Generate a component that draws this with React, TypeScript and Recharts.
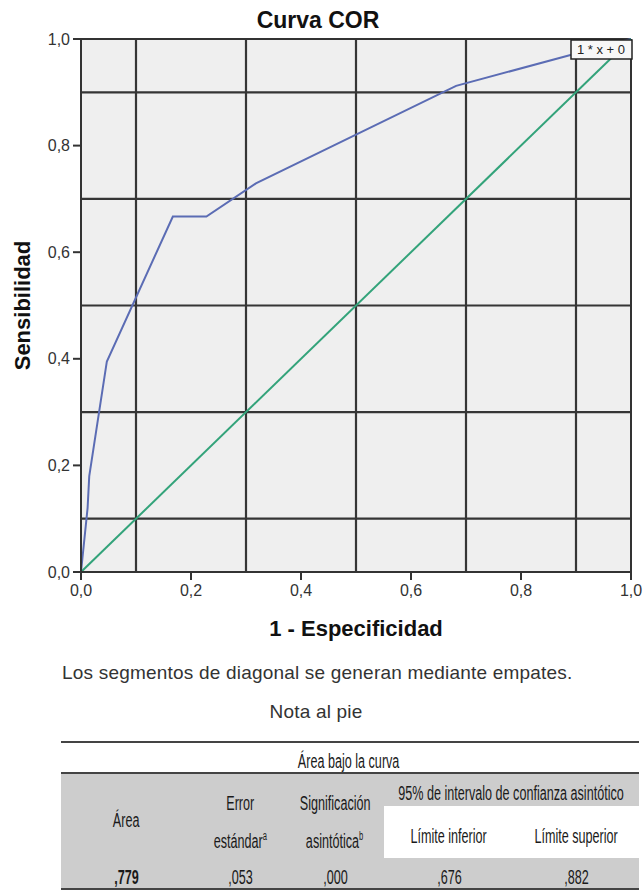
import React from 'react';
import { LineChart, Line, XAxis, YAxis, CartesianGrid, ReferenceLine } from 'recharts';

// ROC curve points (1 - especificidad, sensibilidad)
const rocX = [0, 0.012, 0.015, 0.047, 0.167, 0.228, 0.318, 0.682, 0.89, 1];
const rocY = [0, 0.12, 0.18, 0.395, 0.667, 0.667, 0.729, 0.912, 0.97, 1];
// reference diagonal
const diagX = [0, 1];
const diagY = [0, 1];
// axis ticks and gridlines
const axisTicks = [0, 0.2, 0.4, 0.6, 0.8, 1];
const gridValues = [0.1, 0.3, 0.5, 0.7, 0.9];
const borderValues = [1];

// table
const tableTitle = 'Área bajo la curva';
const aucValues = [',779', ',053', ',000', ',676', ',882'];

const rocData = rocX.map((x, i) => ({ x, y: rocY[i] }));
const diagData = diagX.map((x, i) => ({ x, y: diagY[i] }));

const fmt = (v: number) => v.toFixed(1).replace('.', ',');

const AXIS = '#333333';
const GRID = '#353535';
const SANS = '"Liberation Sans", Arial, sans-serif';

const renderBox = (props: any) => {
  const { x, y, index } = props;
  if (index !== diagData.length - 1) return null;
  return (
    <g>
      <rect x={x - 60} y={y + 1} width={61} height={19} fill="#f7f7f7" stroke="#222" strokeWidth={1.5} />
      <text x={x - 30} y={y + 15} textAnchor="middle" fontSize={13} fontFamily={SANS} fill="#222">
        1 * x + 0
      </text>
    </g>
  );
};

const cellText = (left: number, top: number, text: React.ReactNode, extra: React.CSSProperties = {}) => (
  <div
    style={{
      position: 'absolute',
      left: left - 200,
      width: 400,
      top: top - 13,
      height: 26,
      lineHeight: '26px',
      textAlign: 'center',
      whiteSpace: 'nowrap',
    }}
  >
    <span
      style={{
        display: 'inline-block',
        fontFamily: SANS,
        fontSize: 20,
        color: '#1a1a1a',
        transform: 'scaleX(0.63)',
        transformOrigin: 'center',
        ...extra,
      }}
    >
      {text}
    </span>
  </div>
);

export default function App() {
  return (
    <div style={{ position: 'absolute', left: 0, top: 0, width: 644, height: 891, background: '#fff', overflow: 'hidden' }}>
      <div
        style={{
          position: 'absolute',
          left: 218,
          width: 200,
          top: 6,
          height: 28,
          lineHeight: '28px',
          textAlign: 'center',
          fontFamily: SANS,
          fontWeight: 'bold',
          fontSize: 23,
          color: '#111',
        }}
      >
        Curva COR
      </div>

      <div style={{ position: 'absolute', left: 0, top: 0 }}>
        <LineChart width={644} height={650} margin={{ top: 39, right: 13, bottom: 8, left: 0 }}>
          <CartesianGrid fill="#efefef" stroke="none" horizontal={false} vertical={false} />
          {gridValues.map((v) => (
            <ReferenceLine key={'gx' + v} x={v} stroke={GRID} strokeWidth={2.2} />
          ))}
          {gridValues.map((v) => (
            <ReferenceLine key={'gy' + v} y={v} stroke={GRID} strokeWidth={2.2} />
          ))}
          {borderValues.map((v) => (
            <ReferenceLine key={'bx' + v} x={v} stroke={AXIS} strokeWidth={2} />
          ))}
          {borderValues.map((v) => (
            <ReferenceLine key={'by' + v} y={v} stroke={AXIS} strokeWidth={2} />
          ))}
          <XAxis
            dataKey="x"
            type="number"
            domain={[0, 1]}
            ticks={axisTicks}
            tickFormatter={fmt}
            height={70}
            tickSize={8}
            tickMargin={5}
            axisLine={{ stroke: AXIS, strokeWidth: 2 }}
            tickLine={{ stroke: AXIS, strokeWidth: 2 }}
            tick={{ fontSize: 16, fill: '#333', fontFamily: SANS }}
            label={{
              value: '1 - Especificidad',
              position: 'insideBottom',
              offset: 6,
              style: { fontSize: 22, fontWeight: 'bold', fill: '#111', fontFamily: SANS },
            }}
          />
          <YAxis
            dataKey="y"
            type="number"
            domain={[0, 1]}
            ticks={axisTicks}
            tickFormatter={fmt}
            width={81}
            tickSize={8}
            tickMargin={3}
            axisLine={{ stroke: AXIS, strokeWidth: 2 }}
            tickLine={{ stroke: AXIS, strokeWidth: 2 }}
            tick={{ fontSize: 16, fill: '#333', fontFamily: SANS }}
            label={{
              value: 'Sensibilidad',
              angle: -90,
              position: 'insideLeft',
              offset: 22,
              style: { fontSize: 22, fontWeight: 'bold', fill: '#111', fontFamily: SANS, textAnchor: 'middle' },
            }}
          />
          <Line
            data={rocData}
            dataKey="y"
            type="linear"
            stroke="#5b6cb4"
            strokeWidth={2}
            dot={false}
            isAnimationActive={false}
          />
          <Line
            data={diagData}
            dataKey="y"
            type="linear"
            stroke="#33a37a"
            strokeWidth={2}
            dot={false}
            isAnimationActive={false}
            label={renderBox}
          />
        </LineChart>
      </div>

      <div
        style={{
          position: 'absolute',
          left: 62,
          top: 661,
          height: 24,
          lineHeight: '24px',
          fontFamily: SANS,
          fontSize: 19,
          letterSpacing: 0.2,
          color: '#333',
          whiteSpace: 'nowrap',
        }}
      >
        Los segmentos de diagonal se generan mediante empates.
      </div>
      <div
        style={{
          position: 'absolute',
          left: 216,
          width: 200,
          top: 700,
          height: 24,
          lineHeight: '24px',
          textAlign: 'center',
          fontFamily: SANS,
          fontSize: 19,
          letterSpacing: 0.2,
          color: '#333',
        }}
      >
        Nota al pie
      </div>

      {/* table */}
      <div style={{ position: 'absolute', left: 61, width: 578, top: 741, height: 2, background: '#444' }} />
      {cellText(349, 761, tableTitle)}
      <div style={{ position: 'absolute', left: 61, width: 578, top: 772, height: 2, background: '#444' }} />
      <div style={{ position: 'absolute', left: 61, width: 578, top: 774, height: 114, background: '#cdcdcd' }} />
      <div style={{ position: 'absolute', left: 384, width: 255, top: 806, height: 52, background: '#fff' }} />
      <div style={{ position: 'absolute', left: 61, width: 578, top: 888, height: 2, background: '#444' }} />

      {cellText(126, 820, 'Área')}
      {cellText(240, 803, 'Error')}
      {cellText(240, 836, <span>estándar<sup style={{ fontSize: 12 }}>a</sup></span>)}
      {cellText(335, 803, 'Significación')}
      {cellText(335, 836, <span>asintótica<sup style={{ fontSize: 12 }}>b</sup></span>)}
      {cellText(511, 793, '95% de intervalo de confianza asintótico')}
      {cellText(449, 836, 'Límite inferior')}
      {cellText(576, 836, 'Límite superior')}

      {aucValues.map((v, i) =>
        cellText([126, 240, 335, 449, 576][i], 877, v, i === 0 ? { fontWeight: 'bold' } : {})
      )}
    </div>
  );
}
